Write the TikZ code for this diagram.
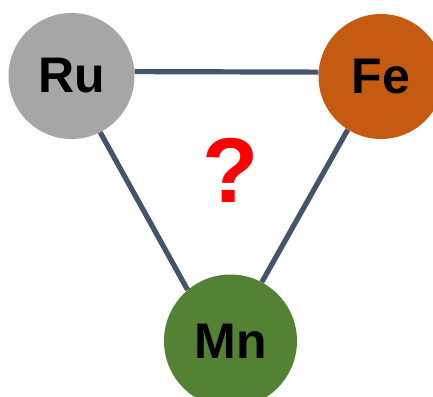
\documentclass[tikz,border=0pt]{standalone}
\usepackage{fontspec}
\setmainfont{Liberation Sans}
\definecolor{ruGray}{HTML}{A6A6A6}
\definecolor{feOrange}{HTML}{C55A11}
\definecolor{mnGreen}{HTML}{548235}
\definecolor{linkSlate}{HTML}{44546A}
\begin{document}
\begin{tikzpicture}[x=1pt,y=-1pt,
  element/.style={circle,inner sep=0pt,text=black,font=\fontsize{50}{50}\selectfont\bfseries},
  link/.style={draw=linkSlate,line width=5.2pt}]
  \useasboundingbox (0,0) rectangle (433,396);
  \clip (0,0) rectangle (433,396);
  % metal centres
  \node[element,fill=ruGray,minimum size=126pt] (Ru) at (71.5,76) {Ru};
  \node[element,fill=feOrange,minimum size=125pt] (Fe) at (381,76.5) {Fe};
  \node[element,fill=mnGreen,minimum size=133pt] (Mn) at (230.5,341) {Mn};
  % links between the metals
  \draw[link] (Ru.4) -- (Fe.176);
  \draw[link] (Ru.-63) -- (Mn.130);
  \draw[link] (Fe.238) -- (Mn.62);
  % open question in the middle
  \node[text=red,font=\fontsize{92}{92}\selectfont\bfseries] (q) at (230.5,170.5) {?};
\end{tikzpicture}
\end{document}
